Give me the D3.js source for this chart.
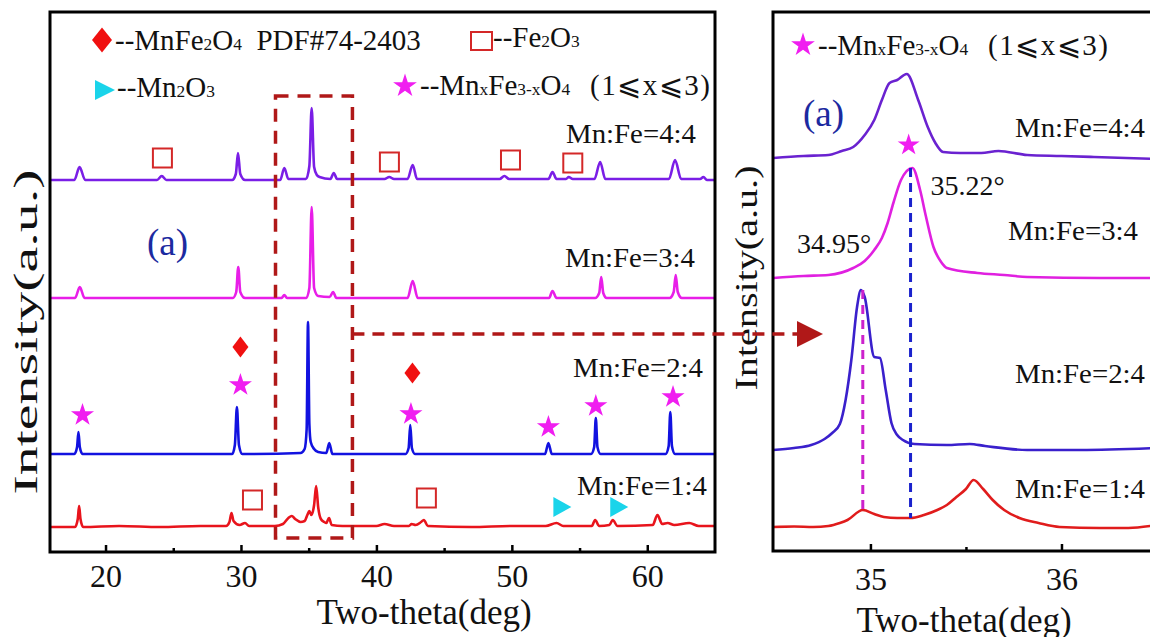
<!DOCTYPE html>
<html>
<head>
<meta charset="utf-8">
<script src="https://cdn.jsdelivr.net/npm/d3@7"></script>
<style>
  body { margin: 0; background: #fff; }
  svg { display: block; font-family: "Liberation Serif", "Times New Roman", Times, serif; }
  text { font-family: "Liberation Serif", "Times New Roman", Times, serif; fill: #111; }
</style>
</head>
<body>
<svg id="chart" width="1150" height="637"></svg>
<script>
// ---------- data (2θ in deg, intensity in a.u. above each pattern's baseline) ----------
const ratios = ['Mn:Fe=1:4', 'Mn:Fe=2:4', 'Mn:Fe=3:4', 'Mn:Fe=4:4'];

const xTicksLeft = [20, 30, 40, 50, 60];
const xMinorLeft = [25, 35, 45, 55];
const xTicksRight = [35, 36];
const xMinorRight = [35.5];

// full range patterns
const patRed = [[15.9,0],[17.75,0],[17.95,8],[18.05,21],[18.15,8],[18.35,0],[21,1],[24,0],[27,1],[28.9,1],[29.15,5],[29.3,14],[29.45,6],
  [29.9,2],[30.3,4],[30.6,1],[32.5,1],[33.1,3],[33.5,9],[33.75,11],[34.0,8],[34.4,5],[34.7,6],[34.9,12],[35.05,16],[35.2,12],
  [35.4,22],[35.55,41],[35.7,20],[35.9,8],[36.15,5],[36.3,4],[36.5,9],[36.7,2],[37.5,1],[40.0,1],[40.6,3],[41.3,1],[42.4,1],
  [42.6,3],[42.9,2],[43.3,5],[43.5,7],[43.8,1],[47,0],[50,1],[52.5,1],[53.3,4],[53.8,1],[55.9,1],[56.15,7],[56.45,1],
  [57.2,2],[57.45,7],[57.8,1],[60.4,2],[60.75,12],[61.1,3],[61.5,4],[62.0,2],[63.1,4],[63.8,1],[65,1]];
const patBlue = [[15.9,0],[17.7,0],[17.9,7],[18.0,22],[18.1,7],[18.3,0],[24,0],[29.35,0],[29.55,9],[29.7,47],[29.85,9],[30.1,0],
  [34.4,1],[34.7,5],[34.85,25],[34.95,132],[35.05,30],[35.15,12],[35.4,5],[35.7,2],[36.3,1],[36.52,11],[36.75,0],
  [42.15,0],[42.38,6],[42.5,29],[42.62,6],[42.85,0],[52.45,0],[52.7,11],[52.95,0],[55.85,0],[56.08,7],[56.2,36],[56.32,7],
  [56.55,0],[61.35,0],[61.58,8],[61.7,42],[61.82,8],[62.05,0],[65,0]];
const patMagenta = [[15.9,0],[17.75,0],[18.1,11],[18.45,0],[29.4,0],[29.65,6],[29.8,31],[29.95,6],[30.3,0],[33.0,0],[33.2,3],
  [33.4,0],[34.8,0],[35.05,10],[35.22,91],[35.4,10],[35.7,2],[36.55,1],[36.8,6],[37.05,0],[42.3,0],[42.68,17],[43.05,0],
  [52.75,0],[53.0,7],[53.3,0],[56.15,0],[56.45,5],[56.6,21],[56.75,5],[57.0,0],[61.65,0],[61.95,6],[62.1,23],[62.25,6],
  [62.55,0],[65,0]];
const patPurple = [[15.9,0],[17.7,0],[18.08,13],[18.5,0],[23.8,0],[24.15,4],[24.5,0],[29.35,0],[29.62,6],[29.78,27],[29.95,6],
  [30.3,0],[32.9,0],[33.2,12],[33.5,1],[34.8,1],[35.05,14],[35.22,72],[35.4,13],[35.6,5],[35.8,3],[36.6,1],[36.85,7],[37.1,1],
  [40.6,1],[40.95,3],[41.3,1],[42.3,1],[42.68,15],[43.0,1],[49.1,1],[49.45,4],[49.8,1],[52.7,1],[53.0,8],[53.3,1],[54.0,1],
  [54.2,3],[54.5,1],[56.1,1],[56.52,18],[56.9,1],[61.6,1],[62.05,20],[62.5,1],[63.9,1],[64.15,3],[64.4,0],[65,0]];

// zoomed 34.5-36.5 patterns
const zoomRed = [[34.49,0],[34.6,0.5],[34.7,0],[34.78,1],[34.84,4],[34.88,7],[34.96,17],[35.02,13],[35.07,10],[35.14,9],
  [35.21,9],[35.28,12],[35.35,17],[35.4,22],[35.45,30],[35.5,38],[35.54,47],[35.59,38],[35.64,27],[35.7,17],[35.78,9],
  [35.88,4],[35.99,0],[36.2,-1],[36.35,-1],[36.5,2]];
const zoomBlue = [[34.49,0],[34.6,2],[34.69,5],[34.76,11],[34.8,17],[34.84,26],[34.87,50],[34.9,90],[34.93,143],[34.95,160],
  [34.97,153],[35.02,93],[35.05,92],[35.08,60],[35.11,27],[35.14,15],[35.17,10],[35.23,6],[35.4,5],[35.52,6],[35.6,4],
  [35.82,0],[36.1,0],[36.5,2]];
const zoomMagenta = [[34.49,0],[34.65,2],[34.78,3],[34.91,10],[34.97,17],[35.02,28],[35.06,40],[35.09,55],[35.12,75],
  [35.16,98],[35.22,110],[35.26,88],[35.29,62],[35.33,31],[35.37,16],[35.4,10],[35.56,5],[35.7,3],[35.82,1],[36.2,0],[36.5,0]];
const zoomPurple = [[34.49,0],[34.65,2],[34.78,3],[34.85,7],[34.91,11],[34.97,23],[35.02,38],[35.06,58],[35.1,75],[35.14,78],
  [35.19,84],[35.25,58],[35.3,31],[35.34,15],[35.38,6],[35.47,5],[35.58,5],[35.67,7],[35.82,3],[36.0,2],[36.17,1],[36.5,-1]];

const offsetsLeft = [25, 98, 254, 372];
const offsetsRight = [24, 101, 273, 393];

// phase markers [2θ, level]
const squares = [[24.2,394],[40.96,390],[49.9,392],[54.5,389],[30.85,52],[43.69,54]];
const diamonds = [[29.96,205],[42.66,179]];
const stars = [[18.3,137],[29.96,167],[42.55,138],[52.7,125],[56.2,146],[61.9,155]];
const triangles = [[53.73,45],[57.93,45]];
const starsRight = [[35.2,406]];
const peakLabels = [[35.22, '35.22°'], [34.95, '34.95°']];

const colorsLeft = ['#e8141c', '#1212e0', '#e81ee8', '#7a1ee6'];
const colorsRight = ['#e01c1c', '#3a20cc', '#e020e0', '#6a22d0'];

// ---------- layout ----------
const FONT = '"Liberation Serif", "Times New Roman", Times, serif';
const svg = d3.select('#chart');
const L = { x0: 50, x1: 715, y0: 12, y1: 552 };
const R = { x0: 773, x1: 1157, y0: 12, y1: 551 };

const xL = d3.scaleLinear().domain([15.9, 65]).range([L.x0, L.x1]);
const yL = d3.scaleLinear().domain([0, 540]).range([L.y1, L.y0]);
const xR = d3.scaleLinear().domain([34.49, 36.5]).range([R.x0, R.x1]);
const yR = d3.scaleLinear().domain([0, 539]).range([R.y1, R.y0]);

function txt(x, y, size) {
  return svg.append('text').attr('x', x).attr('y', y).attr('font-size', size).style('font-family', FONT);
}

const defs = svg.append('defs');
defs.append('clipPath').attr('id', 'clipL').append('rect')
  .attr('x', L.x0).attr('y', L.y0).attr('width', L.x1 - L.x0).attr('height', L.y1 - L.y0);
defs.append('clipPath').attr('id', 'clipR').append('rect')
  .attr('x', R.x0).attr('y', R.y0).attr('width', R.x1 - R.x0).attr('height', R.y1 - R.y0);

// curves
const leftPats = [patRed, patBlue, patMagenta, patPurple];
const rightPats = [zoomRed, zoomBlue, zoomMagenta, zoomPurple];

const gL = svg.append('g').attr('clip-path', 'url(#clipL)');
leftPats.forEach((pat, i) => {
  const line = d3.line().x(d => xL(d[0])).y(d => yL(d[1] + offsetsLeft[i])).curve(d3.curveMonotoneX);
  gL.append('path').attr('d', line(pat)).attr('fill', 'none')
    .attr('stroke', colorsLeft[i]).attr('stroke-width', 2.6).attr('stroke-linejoin', 'round');
});

const gR = svg.append('g').attr('clip-path', 'url(#clipR)');
rightPats.forEach((pat, i) => {
  const line = d3.line().x(d => xR(d[0])).y(d => yR(d[1] + offsetsRight[i])).curve(d3.curveMonotoneX);
  gR.append('path').attr('d', line(pat)).attr('fill', 'none')
    .attr('stroke', colorsRight[i]).attr('stroke-width', 2.6).attr('stroke-linejoin', 'round');
});

// dashed guide lines in zoom panel
gR.append('line').attr('x1', xR(34.96)).attr('x2', xR(34.96))
  .attr('y1', yR(offsetsRight[1] + 160)).attr('y2', yR(offsetsRight[0] + 17))
  .attr('stroke', '#cc22cc').attr('stroke-width', 3).attr('stroke-dasharray', '9,6');
gR.append('line').attr('x1', xR(35.21)).attr('x2', xR(35.21))
  .attr('y1', yR(offsetsRight[2] + 110)).attr('y2', yR(offsetsRight[0] + 9))
  .attr('stroke', '#1a22cc').attr('stroke-width', 3).attr('stroke-dasharray', '9,6');

// frames
[L, R].forEach(p => {
  svg.append('rect').attr('x', p.x0).attr('y', p.y0).attr('width', p.x1 - p.x0).attr('height', p.y1 - p.y0)
    .attr('fill', 'none').attr('stroke', '#000').attr('stroke-width', 3);
});

// axes: major ticks with labels, minor ticks in their own group
function drawAxis(scale, y, major, minor, pad) {
  const gMaj = svg.append('g').attr('transform', `translate(0,${y})`)
    .call(d3.axisBottom(scale).tickValues(major).tickSize(-7).tickPadding(pad).tickFormat(d3.format('d')));
  const gMin = svg.append('g').attr('transform', `translate(0,${y})`)
    .call(d3.axisBottom(scale).tickValues(minor).tickSize(-4).tickFormat(''));
  [gMaj, gMin].forEach(g => {
    g.selectAll('.domain').remove();
    g.selectAll('.tick line').attr('stroke', '#000').attr('stroke-width', 2.5);
  });
  gMaj.selectAll('.tick text').attr('font-size', 32).style('fill', '#111').style('font-family', FONT);
}
drawAxis(xL, L.y1, xTicksLeft, xMinorLeft, 12);
drawAxis(xR, R.y1, xTicksRight, xMinorRight, 16);

txt(424, 624, 35).attr('text-anchor', 'middle').text('Two-theta(deg)');
txt(964, 632, 35).attr('text-anchor', 'middle').text('Two-theta(deg)');

svg.append('text').attr('transform', 'translate(37,332) rotate(-90)').attr('text-anchor', 'middle').style('font-family', FONT)
  .attr('font-size', 34).attr('textLength', 325).attr('lengthAdjust', 'spacingAndGlyphs').text('Intensity(a.u.)');
svg.append('text').attr('transform', 'translate(757,278) rotate(-90)').attr('text-anchor', 'middle').style('font-family', FONT)
  .attr('font-size', 32).attr('textLength', 225).attr('lengthAdjust', 'spacingAndGlyphs').text('Intensity(a.u.)');

// ratio labels
const labelLeft = [[577, 495], [573, 377], [565, 267], [566, 143]];
const labelRight = [[1015, 498], [1015, 383], [1008, 240], [1015, 137]];
ratios.forEach((r, i) => {
  txt(labelLeft[i][0], labelLeft[i][1], 28).attr('textLength', 130).attr('lengthAdjust', 'spacingAndGlyphs').text(r);
  txt(labelRight[i][0], labelRight[i][1], 28).attr('textLength', 130).attr('lengthAdjust', 'spacingAndGlyphs').text(r);
});

txt(147, 255, 37).style('fill', '#1c2aa0').text('(a)');
txt(803, 126, 37).style('fill', '#1c2aa0').text('(a)');

peakLabels.forEach((p, i) => {
  const x = i === 0 ? xR(p[0]) + 18 : xR(p[0]) - 64;
  const y = i === 0 ? 195 : 253;
  txt(x, y, 28).text(p[1]);
});

// zoom box + arrow
const boxColor = '#b01818';
svg.append('rect').attr('x', xL(32.55)).attr('y', 96).attr('width', xL(38.23) - xL(32.55)).attr('height', 538 - 96)
  .attr('fill', 'none').attr('stroke', boxColor).attr('stroke-width', 3.5).attr('stroke-dasharray', '13,9');
svg.append('line').attr('x1', xL(38.23)).attr('x2', 800).attr('y1', 334).attr('y2', 334)
  .attr('stroke', boxColor).attr('stroke-width', 3.5).attr('stroke-dasharray', '12,8');
svg.append('path').attr('d', 'M797,321 L823,334 L797,347 Z').attr('fill', boxColor);

// markers
const starPath = s => d3.symbol(d3.symbolStar, s)();
const diamondPath = (w, h) => `M0,${-h/2} L${w/2},0 L0,${h/2} L${-w/2},0 Z`;
const triPath = (w, h) => `M${-w/2},${-h/2} L${w/2},0 L${-w/2},${h/2} Z`;
const starColor = '#f01ef0', diaColor = '#f01010', triColor = '#1ad4ea', sqColor = '#d42828';

squares.forEach(d => svg.append('rect').attr('x', xL(d[0]) - 9.5).attr('y', yL(d[1]) - 9.5).attr('width', 19).attr('height', 19)
  .attr('fill', 'none').attr('stroke', sqColor).attr('stroke-width', 2));
diamonds.forEach(d => svg.append('path').attr('transform', `translate(${xL(d[0])},${yL(d[1])})`)
  .attr('d', diamondPath(16, 21)).attr('fill', diaColor));
stars.forEach(d => svg.append('path').attr('transform', `translate(${xL(d[0])},${yL(d[1])})`)
  .attr('d', starPath(165)).attr('fill', starColor));
triangles.forEach(d => svg.append('path').attr('transform', `translate(${xL(d[0])},${yL(d[1])})`)
  .attr('d', triPath(18, 20)).attr('fill', triColor));
starsRight.forEach(d => svg.append('path').attr('transform', `translate(${xR(d[0])},${yR(d[1])})`)
  .attr('d', starPath(150)).attr('fill', starColor));

// legends
function rich(x, y, parts, size) {
  const t = txt(x, y, size).style('white-space', 'pre');
  parts.forEach(p => t.append('tspan').attr('font-size', p[1] ? size * 0.6 : size).text(p[0]));
  return t;
}
svg.append('path').attr('transform', 'translate(102,40)').attr('d', diamondPath(20, 25)).attr('fill', diaColor);
rich(115, 50, [['--MnFe', 0], ['2', 1], ['O', 0], ['4', 1], ['  PDF#74-2403', 0]], 29);
svg.append('rect').attr('x', 471).attr('y', 32).attr('width', 21).attr('height', 18)
  .attr('fill', 'none').attr('stroke', sqColor).attr('stroke-width', 2);
rich(493, 47, [['--Fe', 0], ['2', 1], ['O', 0], ['3', 1]], 29);
svg.append('path').attr('transform', 'translate(105,90)').attr('d', triPath(20, 20)).attr('fill', triColor);
rich(117, 97, [['--Mn', 0], ['2', 1], ['O', 0], ['3', 1]], 29);

[[405, 86, 420, 95], [803, 45, 818, 55]].forEach(p => {
  svg.append('path').attr('transform', `translate(${p[0]},${p[1]})`).attr('d', starPath(175)).attr('fill', starColor);
  rich(p[2], p[3], [['--Mn', 0], ['x', 1], ['Fe', 0], ['3-x', 1], ['O', 0], ['4', 1]], 29);
  txt(p[2] + 170, p[3], 29).attr('textLength', 120).attr('lengthAdjust', 'spacing').text('(1⩽x⩽3)');
});
</script>
</body>
</html>
